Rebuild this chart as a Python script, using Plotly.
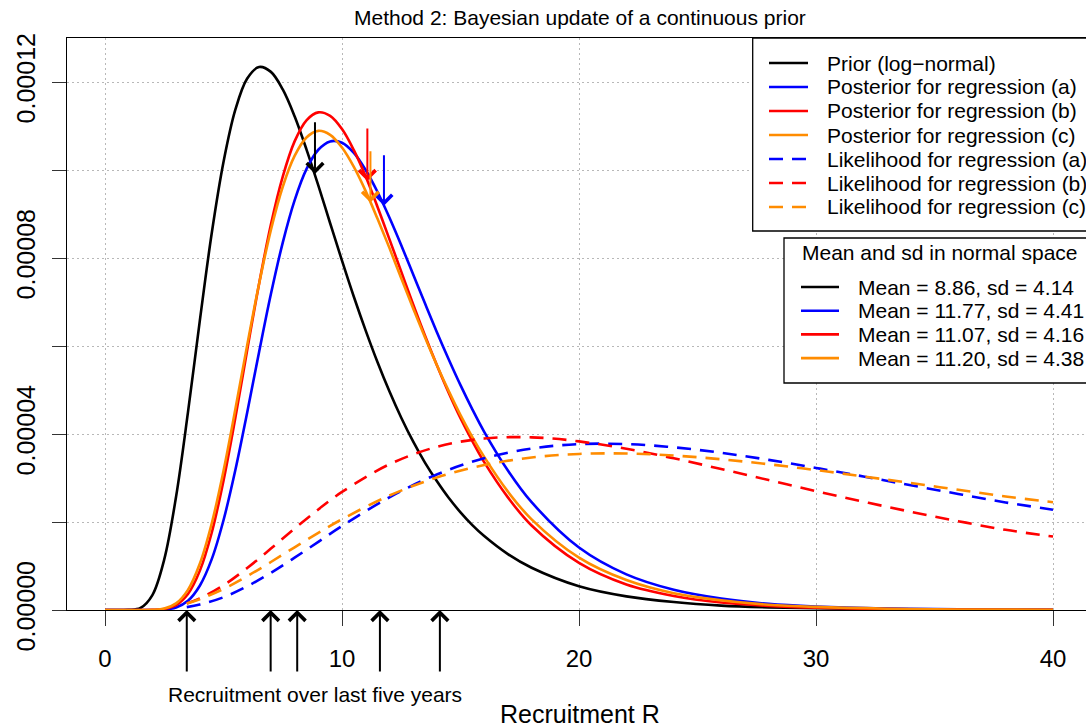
import plotly.graph_objects as go

# ---------------- data (densities stored in units of 1e-5) ----------------
DENSITY_UNIT = 1e-5

R_GRID = [0, 0.5, 1, 1.5, 2, 2.5, 3, 3.5, 4, 4.5, 5, 5.5, 6, 6.5, 7, 7.5, 8, 8.5, 9, 9.5,
          10, 10.5, 11, 11.5, 12, 12.5, 13, 13.5, 14, 14.5, 15, 15.5, 16,
          17, 18, 20, 22, 24, 26, 28, 30, 33, 36, 40]
PRIOR = [0, 0, 0.002, 0.048, 0.34, 1.15, 2.58, 4.49, 6.57, 8.55, 10.18, 11.37, 12.08, 12.34,
         12.23, 11.83, 11.22, 10.47, 9.65, 8.79, 7.94, 7.12, 6.35, 5.63, 4.97, 4.37, 3.83, 3.35,
         2.93, 2.55, 2.22, 1.93, 1.68,
         1.27, 0.96, 0.54, 0.31, 0.18, 0.10, 0.06, 0.04, 0.02, 0.01, 0.00]
POST_A = [0, 0, 0, 0, 0, 0.010, 0.058, 0.21, 0.552, 1.15, 2.04, 3.18, 4.49, 5.86, 7.18, 8.35,
          9.31, 10.02, 10.46, 10.65, 10.62, 10.39, 10.00, 9.50, 8.92, 8.29, 7.63, 6.97, 6.32,
          5.70, 5.11, 4.56, 4.05,
          3.17, 2.45, 1.42, 0.81, 0.46, 0.26, 0.14, 0.08, 0.034, 0.015, 0.005]
POST_B = [0, 0, 0, 0, 0.002, 0.021, 0.109, 0.363, 0.889, 1.75, 2.94, 4.37, 5.91, 7.41, 8.76,
          9.85, 10.65, 11.13, 11.31, 11.23, 10.93, 10.45, 9.85, 9.16, 8.43, 7.69, 6.95, 6.24,
          5.57, 4.94, 4.36, 3.84, 3.36,
          2.56, 1.92, 1.07, 0.58, 0.32, 0.17, 0.093, 0.051, 0.021, 0.009, 0.003]
POST_C = [0, 0, 0, 0, 0.004, 0.033, 0.150, 0.458, 1.05, 1.96, 3.16, 4.56, 6.02, 7.41, 8.64,
          9.62, 10.32, 10.74, 10.89, 10.80, 10.51, 10.07, 9.52, 8.89, 8.23, 7.54, 6.86, 6.20,
          5.57, 4.98, 4.43, 3.93, 3.48,
          2.69, 2.06, 1.19, 0.68, 0.38, 0.22, 0.12, 0.070, 0.030, 0.013, 0.005]

LIK_GRID = [3.45, 4, 5, 6, 7, 8, 9, 10, 12, 14, 16, 18, 20, 22, 24, 26, 28, 30, 32, 34, 36, 38, 40]
LIK_A = [0.066, 0.124, 0.29, 0.539, 0.845, 1.189, 1.549, 1.908, 2.561, 3.081, 3.447, 3.670,
         3.769, 3.770, 3.698, 3.573, 3.412, 3.229, 3.035, 2.835, 2.638, 2.445, 2.28]
LIK_B = [0.149, 0.263, 0.563, 0.954, 1.396, 1.851, 2.286, 2.683, 3.311, 3.708, 3.897, 3.924,
         3.833, 3.664, 3.447, 3.204, 2.953, 2.70, 2.461, 2.232, 2.019, 1.822, 1.67]
LIK_C = [0.150, 0.246, 0.478, 0.768, 1.091, 1.425, 1.753, 2.063, 2.601, 3.011, 3.294, 3.466,
         3.547, 3.556, 3.511, 3.426, 3.312, 3.18, 3.036, 2.885, 2.732, 2.580, 2.45]

RECENT_RECRUITMENT = [3.45, 6.99, 8.11, 11.60, 14.13]

# prior, posterior (a), (b), (c)
MEANS = [8.86, 11.77, 11.07, 11.20]
SDS = [4.14, 4.41, 4.16, 4.38]
MEAN_ARROW_HEAD = [9.91, 9.19, 9.75, 9.26]
MEAN_ARROW_TAIL = [11.12, 10.37, 10.98, 10.46]

X_TICKS = [0, 10, 20, 30, 40]
Y_TICKS = [0, 2, 4, 6, 8, 10, 12]
Y_TICK_LABELS = ["0.00000", "", "0.00004", "", "0.00008", "", "0.00012"]

TITLE = "Method 2: Bayesian update of a continuous prior"
X_TITLE = "Recruitment R"
OBS_LABEL = "Recruitment over last five years"
LEGEND_LABELS = ["Prior (log\u2212normal)",
                 "Posterior for regression (a)", "Posterior for regression (b)",
                 "Posterior for regression (c)",
                 "Likelihood for regression (a)", "Likelihood for regression (b)",
                 "Likelihood for regression (c)"]
LEGEND2_TITLE = "Mean and sd in normal space"

# ---------------- styles ----------------
BLACK, BLUE, RED, ORANGE = "#000000", "#0000FF", "#FF0000", "#FF8C00"
SERIES_COLORS = [BLACK, BLUE, RED, ORANGE]
FONT = "Liberation Sans, Arial, sans-serif"
LW = 2.6
DASH = "14px,9px"
TXT = 21

W, H = 1086, 727
ML, MR, MT, MB = 67, 0, 38, 117
PW, PH = W - ML - MR, H - MT - MB
X0_PX, X_PX_PER_UNIT = 105, 23.7


def px(xp):
    return (xp - ML) / PW


def py(yp):
    return (H - MB - yp) / PH


def scale(vals):
    return [v * DENSITY_UNIT for v in vals]


fig = go.Figure()

curves = [
    (R_GRID, PRIOR, BLACK, "solid", LEGEND_LABELS[0]),
    (R_GRID, POST_A, BLUE, "solid", LEGEND_LABELS[1]),
    (R_GRID, POST_B, RED, "solid", LEGEND_LABELS[2]),
    (R_GRID, POST_C, ORANGE, "solid", LEGEND_LABELS[3]),
    (LIK_GRID, LIK_A, BLUE, DASH, LEGEND_LABELS[4]),
    (LIK_GRID, LIK_B, RED, DASH, LEGEND_LABELS[5]),
    (LIK_GRID, LIK_C, ORANGE, DASH, LEGEND_LABELS[6]),
]
for xs, ys, col, dash, name in curves:
    fig.add_trace(go.Scatter(x=xs, y=scale(ys), mode="lines", name=name,
                             line=dict(color=col, width=LW, dash=dash, shape="spline", smoothing=1.0),
                             showlegend=False, hoverinfo="skip"))

annotations = []
shapes = []

# arrows at the means
for m, hd, tl, col in zip(MEANS, MEAN_ARROW_HEAD, MEAN_ARROW_TAIL, SERIES_COLORS):
    annotations.append(dict(x=m, y=hd * DENSITY_UNIT, ax=m, ay=tl * DENSITY_UNIT,
                            xref="x", yref="y", axref="x", ayref="y", text="",
                            showarrow=True, arrowhead=4, arrowsize=1.6, arrowwidth=2,
                            arrowcolor=col, standoff=0))

# arrows for recent recruitment (below the axis)
for r in RECENT_RECRUITMENT:
    annotations.append(dict(x=r, y=0, xref="x", yref="y", ax=0, ay=63, text="",
                            showarrow=True, arrowhead=4, arrowsize=1.6, arrowwidth=2,
                            arrowcolor=BLACK, standoff=0))

annotations.append(dict(x=sum(RECENT_RECRUITMENT) / len(RECENT_RECRUITMENT), y=py(694),
                        xref="x", yref="paper", text=OBS_LABEL, showarrow=False,
                        font=dict(family=FONT, size=TXT, color="#000"),
                        xanchor="center", yanchor="middle"))

# title and x title
annotations.append(dict(x=px(580), y=py(17), xref="paper", yref="paper", text=TITLE,
                        showarrow=False, font=dict(family=FONT, size=TXT, color="#000"),
                        xanchor="center", yanchor="middle"))
annotations.append(dict(x=px(580), y=py(714), xref="paper", yref="paper", text=X_TITLE,
                        showarrow=False, font=dict(family=FONT, size=25, color="#000"),
                        xanchor="center", yanchor="middle"))

# legend 1
shapes.append(dict(type="rect", xref="paper", yref="paper", x0=px(752.7), x1=1.02,
                   y0=py(231), y1=py(38), fillcolor="white", line=dict(color="black", width=1.3),
                   layer="above"))
leg1_styles = [(BLACK, "solid"), (BLUE, "solid"), (RED, "solid"), (ORANGE, "solid"),
               (BLUE, DASH), (RED, DASH), (ORANGE, DASH)]
for i, (lab, (col, dash)) in enumerate(zip(LEGEND_LABELS, leg1_styles)):
    yc = 63 + i * 24
    shapes.append(dict(type="line", xref="paper", yref="paper", x0=px(769), x1=px(808),
                       y0=py(yc), y1=py(yc), line=dict(color=col, width=LW, dash=dash),
                       layer="above"))
    annotations.append(dict(x=px(825), y=py(yc), xref="paper", yref="paper", text=lab,
                            showarrow=False, xanchor="left", yanchor="middle",
                            font=dict(family=FONT, size=TXT, color="#000")))

# legend 2
shapes.append(dict(type="rect", xref="paper", yref="paper", x0=px(784), x1=1.02,
                   y0=py(383), y1=py(238), fillcolor="white", line=dict(color="black", width=1.3),
                   layer="above"))
annotations.append(dict(x=px(800), y=py(252), xref="paper", yref="paper", text=LEGEND2_TITLE,
                        showarrow=False, xanchor="left", yanchor="middle",
                        font=dict(family=FONT, size=TXT, color="#000")))
for i, (m, s, col) in enumerate(zip(MEANS, SDS, SERIES_COLORS)):
    yc = 287 + i * 23.7
    shapes.append(dict(type="line", xref="paper", yref="paper", x0=px(801), x1=px(839),
                       y0=py(yc), y1=py(yc), line=dict(color=col, width=LW), layer="above"))
    annotations.append(dict(x=px(856), y=py(yc), xref="paper", yref="paper",
                            text=f"Mean = {m:.2f}, sd = {s:.2f}",
                            showarrow=False, xanchor="left", yanchor="middle",
                            font=dict(family=FONT, size=TXT, color="#000")))

fig.update_layout(
    width=W, height=H,
    margin=dict(l=ML, r=MR, t=MT, b=MB, pad=0, autoexpand=False),
    paper_bgcolor="white", plot_bgcolor="white",
    annotations=annotations, shapes=shapes,
    font=dict(family=FONT, color="#000"),
)
fig.update_xaxes(range=[(ML - X0_PX) / X_PX_PER_UNIT, (W - MR - X0_PX) / X_PX_PER_UNIT],
                 tickvals=X_TICKS, ticktext=[str(t) for t in X_TICKS], automargin=False,
                 showgrid=True, gridcolor="#b8b8b8", griddash="2px,3px", gridwidth=1,
                 zeroline=False, showline=True, linecolor="#000", linewidth=1.3, mirror=True,
                 ticks="outside", ticklen=15, tickwidth=1.3, tickcolor="#333",
                 tickfont=dict(family=FONT, size=24, color="#000"), ticklabelstandoff=12)
fig.update_yaxes(range=[0, 13 * DENSITY_UNIT], tickvals=[v * DENSITY_UNIT for v in Y_TICKS],
                 ticktext=Y_TICK_LABELS, automargin=False,
                 showgrid=True, gridcolor="#b8b8b8", griddash="2px,3px", gridwidth=1,
                 zeroline=False, showline=True, linecolor="#000", linewidth=1.3, mirror=False,
                 ticks="outside", ticklen=14, tickwidth=1.3, tickcolor="#333", tickangle=-90,
                 tickfont=dict(family=FONT, size=25, color="#000"), ticklabelstandoff=7)

fig.write_html("out.html", config={"displayModeBar": False},
               post_script="document.body.style.margin='0';document.body.style.overflow='hidden';")
